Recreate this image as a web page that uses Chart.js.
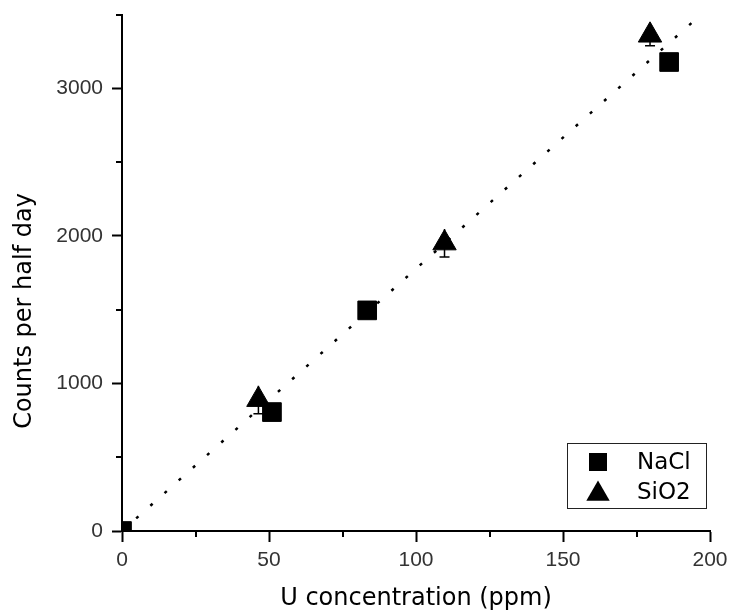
<!DOCTYPE html>
<html>
<head>
<meta charset="utf-8">
<script src="https://cdn.jsdelivr.net/npm/chart.js@4.4.0/dist/chart.umd.min.js"></script>
<style>
html, body { margin: 0; padding: 0; background: #fff; }
</style>
</head>
<body>
<canvas id="myScatterChart" width="731" height="616"></canvas>
<script>
// data
var naclX = [0, 51, 83.4, 186.1];
var naclY = [0, 806, 1495, 3178];
var sio2X = [46.4, 109.7, 179.6];
var sio2Y = [890, 1951, 3359];
var sio2Err = [95, 95, 70];
var fitX = [0, 200];
var fitY = [0, 3554];
var xTicks = [0, 50, 100, 150, 200];
var xMinor = [25, 75, 125, 175];
var yTicks = [0, 1000, 2000, 3000];
var yMinor = [500, 1500, 2500, 3500];
var yTitle = 'Counts per half day';

function toPoints(xs, ys) {
    return xs.map(function (x, i) { return { x: x, y: ys[i] }; });
}

// minor ticks, error bars, y title (sits lower than centre) and the boxed legend
var extrasPlugin = {
    id: 'extras',
    afterDraw: function (chart) {
        var ctx = chart.ctx;
        var a = chart.chartArea;
        var xs = chart.scales.x, ys = chart.scales.y;
        ctx.save();
        ctx.strokeStyle = '#000';
        ctx.lineWidth = 2;
        xMinor.forEach(function (v) {
            var px = Math.round(xs.getPixelForValue(v));
            ctx.beginPath(); ctx.moveTo(px, a.bottom); ctx.lineTo(px, a.bottom + 6); ctx.stroke();
        });
        yMinor.forEach(function (v) {
            var py = Math.round(ys.getPixelForValue(v));
            ctx.beginPath(); ctx.moveTo(a.left, py); ctx.lineTo(a.left - 6, py); ctx.stroke();
        });

        // error bars of SiO2
        ctx.lineWidth = 1.5;
        sio2X.forEach(function (x, i) {
            var px = xs.getPixelForValue(x);
            var top = ys.getPixelForValue(sio2Y[i] + sio2Err[i]);
            var bot = ys.getPixelForValue(sio2Y[i] - sio2Err[i]);
            ctx.beginPath();
            ctx.moveTo(px, top); ctx.lineTo(px, bot);
            ctx.moveTo(px - 5, bot); ctx.lineTo(px + 5, bot);
            ctx.stroke();
        });

        // y title
        ctx.fillStyle = '#000';
        ctx.font = '24px "DejaVu Sans", sans-serif';
        ctx.textAlign = 'center';
        ctx.textBaseline = 'middle';
        ctx.translate(25, 311);
        ctx.rotate(-Math.PI / 2);
        ctx.fillText(yTitle, 0, 0);
        ctx.setTransform(1, 0, 0, 1, 0, 0);

        // legend
        var bx = a.right - 143, by = a.bottom - 88, bw = 139, bh = 65;
        ctx.fillStyle = '#fff';
        ctx.fillRect(bx, by, bw, bh);
        ctx.lineWidth = 1;
        ctx.strokeStyle = '#222';
        ctx.strokeRect(bx + 0.5, by + 0.5, bw, bh);
        ctx.fillStyle = '#000';
        var mx = bx + 31;
        ctx.fillRect(mx - 9, by + 10, 18, 18);
        var ty = by + 51, r = 13.5;
        ctx.beginPath();
        ctx.moveTo(mx, ty - r);
        ctx.lineTo(mx + r * 0.866, ty + r * 0.5);
        ctx.lineTo(mx - r * 0.866, ty + r * 0.5);
        ctx.closePath();
        ctx.fill();
        ctx.font = '23px "DejaVu Sans", sans-serif';
        ctx.textBaseline = 'middle';
        ctx.textAlign = 'left';
        ctx.fillText(chart.data.datasets[0].label, bx + 70, by + 20);
        ctx.fillText(chart.data.datasets[1].label, bx + 70, by + 50);
        ctx.restore();
    }
};

var tickFont = { family: '"Liberation Sans", Arial, sans-serif', size: 21 };
var titleFont = { family: '"DejaVu Sans", sans-serif', size: 24 };

var ctx = document.getElementById('myScatterChart');
var myScatterChart = new Chart(ctx, {
    type: 'scatter',
    data: {
        datasets: [{
            label: 'NaCl',
            data: toPoints(naclX, naclY),
            pointStyle: 'rect',
            pointRadius: 13.2,
            backgroundColor: '#000',
            borderColor: '#000',
            borderWidth: 1,
            clip: 0
        }, {
            label: 'SiO2',
            data: toPoints(sio2X, sio2Y),
            pointStyle: 'triangle',
            pointRadius: 13.5,
            backgroundColor: '#000',
            borderColor: '#000',
            borderWidth: 1,
            clip: 0
        }, {
            label: 'fit',
            type: 'line',
            data: toPoints(fitX, fitY),
            borderColor: '#000',
            borderWidth: 2.5,
            borderDash: [3, 16],
            pointRadius: 0,
            fill: false,
            clip: 0
        }]
    },
    options: {
        responsive: false,
        animation: false,
        layout: { padding: { top: -4, right: 21, left: 0, bottom: 0 } },
        plugins: {
            legend: { display: false },
            tooltip: { enabled: false }
        },
        scales: {
            x: {
                type: 'linear',
                min: 0,
                max: 200,
                afterBuildTicks: function (scale) {
                    scale.ticks = xTicks.map(function (v) { return { value: v }; });
                },
                afterFit: function (scale) {
                    scale.height = 85;
                    scale.paddingLeft = 0;
                    scale.paddingRight = 0;
                },
                grid: { drawOnChartArea: false, tickLength: 11, tickWidth: 2, tickColor: '#000' },
                border: { display: true, color: '#000', width: 2 },
                ticks: {
                    font: tickFont, color: '#333', padding: 6, maxRotation: 0,
                    callback: function (value) { return String(value); }
                },
                title: {
                    display: true,
                    text: 'U concentration (ppm)',
                    font: titleFont,
                    color: '#000',
                    padding: { top: 4, bottom: 3 }
                }
            },
            y: {
                type: 'linear',
                min: 0,
                max: 3500,
                afterBuildTicks: function (scale) {
                    scale.ticks = yTicks.map(function (v) { return { value: v }; });
                },
                afterFit: function (scale) {
                    scale.width = 122;
                    scale.paddingTop = 0;
                    scale.paddingBottom = 0;
                },
                grid: { drawOnChartArea: false, tickLength: 10, tickWidth: 2, tickColor: '#000' },
                border: { display: true, color: '#000', width: 2 },
                ticks: {
                    font: tickFont, color: '#333', padding: 9,
                    callback: function (value) { return String(value); }
                }
            }
        }
    },
    plugins: [extrasPlugin]
});
</script>
</body>
</html>
